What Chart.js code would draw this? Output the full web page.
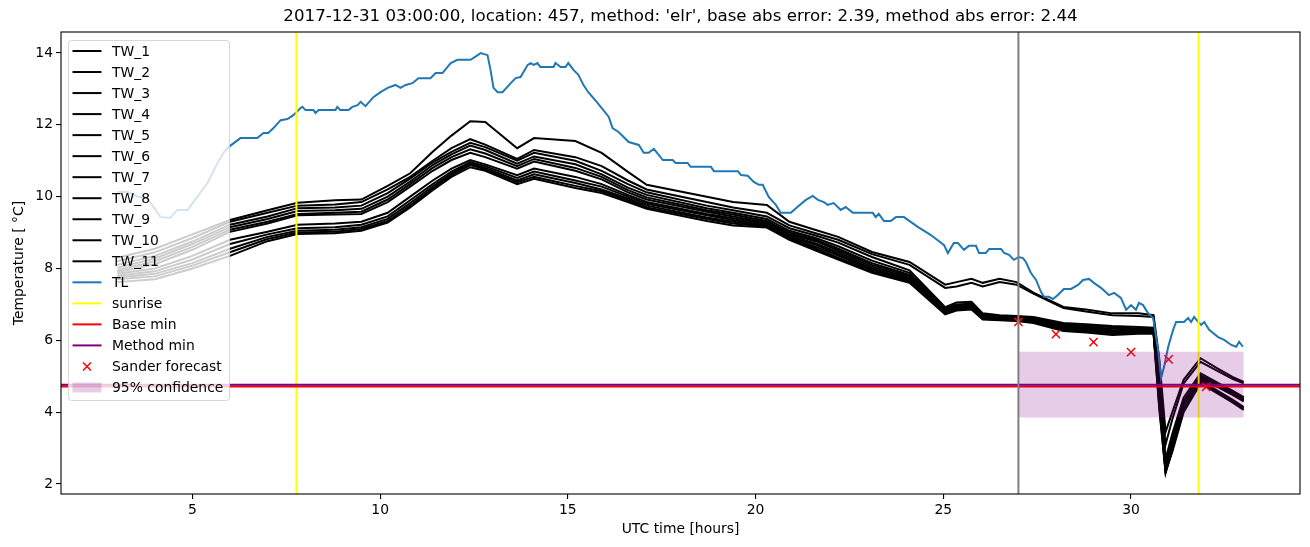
<!DOCTYPE html>
<html>
<head>
<meta charset="utf-8">
<script src="https://cdn.jsdelivr.net/npm/chart.js@4.4.0/dist/chart.umd.min.js"></script>
<style>
  html, body { margin: 0; padding: 0; background: #fff; }
  #wrap { width: 1310px; height: 547px; }
</style>
</head>
<body>
<div id="wrap"><canvas id="chart" width="1310" height="547"></canvas></div>
<script>
// --- data ---
const titleText = "2017-12-31 03:00:00, location: 457, method: 'elr', base abs error: 2.39, method abs error: 2.44";
const xTicks = [5, 10, 15, 20, 25, 30];
const yTicks = [2, 4, 6, 8, 10, 12, 14];
const X_MIN = 1.5, X_MAX = 34.5;
const Y_MIN = 1.72, Y_MAX = 14.585;

const twNames = ['TW_1', 'TW_2', 'TW_3', 'TW_4', 'TW_5', 'TW_6', 'TW_7', 'TW_8', 'TW_9', 'TW_10', 'TW_11'];
const twHours = [3, 4, 5, 6, 7, 7.8, 8.8, 9.5, 10.2, 10.8, 11.4, 11.9, 12.4, 12.8, 13.65, 14.1, 15.2, 15.9, 16.6, 17.1,
  18.7, 19.4, 20.3, 20.9, 21.6, 22.2, 23.1, 24.1, 25.05, 25.35, 25.75, 26.05, 26.5, 26.95, 27.4, 28.2, 28.8, 29.5, 30.2, 30.6,
  30.75, 30.92, 31.1, 31.4, 31.85, 32.3, 32.7, 33];
const tw1 = [8.30, 8.55, 8.95, 9.35, 9.62, 9.83, 9.90, 9.92, 10.30, 10.65, 11.25, 11.70, 12.10, 12.08, 11.35, 11.63, 11.55, 11.22, 10.69, 10.33,
  10.00, 9.85, 9.77, 9.30, 9.07, 8.88, 8.46, 8.18, 7.55, 7.62, 7.71, 7.60, 7.71, 7.62, 7.33, 6.93, 6.86, 6.75, 6.75, 6.70,
  5.50, 3.45, 4.00, 4.90, 5.50, 5.22, 4.98, 4.84];
const tw2 = [8.20, 8.45, 8.85, 9.30, 9.55, 9.75, 9.78, 9.85, 10.20, 10.55, 11.00, 11.35, 11.60, 11.45, 11.05, 11.30, 11.10, 10.85, 10.45, 10.20,
  9.85, 9.70, 9.55, 9.20, 8.98, 8.80, 8.40, 8.10, 7.46, 7.50, 7.60, 7.50, 7.62, 7.55, 7.30, 6.90, 6.80, 6.70, 6.68, 6.65,
  5.00, 3.10, 3.80, 4.80, 5.40, 5.15, 4.93, 4.80];
const tw3 = [8.10, 8.35, 8.75, 9.22, 9.45, 9.68, 9.70, 9.75, 10.10, 10.50, 10.95, 11.25, 11.50, 11.38, 11.00, 11.22, 11.00, 10.72, 10.35, 10.12,
  9.75, 9.62, 9.45, 9.12, 8.92, 8.72, 8.32, 7.95, 6.92, 7.05, 7.07, 6.75, 6.70, 6.68, 6.65, 6.48, 6.45, 6.40, 6.37, 6.35,
  4.80, 2.70, 3.40, 4.40, 5.08, 4.82, 4.60, 4.42];
const tw4 = [8.02, 8.28, 8.68, 9.15, 9.38, 9.60, 9.62, 9.66, 10.00, 10.42, 10.88, 11.18, 11.42, 11.30, 10.92, 11.12, 10.90, 10.62, 10.25, 10.05,
  9.68, 9.55, 9.38, 9.05, 8.85, 8.62, 8.22, 7.88, 6.88, 7.00, 7.02, 6.72, 6.68, 6.66, 6.62, 6.45, 6.42, 6.36, 6.33, 6.32,
  4.60, 2.50, 3.20, 4.30, 5.02, 4.78, 4.55, 4.38];
const tw5 = [7.95, 8.20, 8.60, 9.08, 9.30, 9.52, 9.55, 9.58, 9.92, 10.35, 10.80, 11.10, 11.32, 11.20, 10.85, 11.05, 10.80, 10.55, 10.18, 9.98,
  9.62, 9.50, 9.32, 9.00, 8.80, 8.55, 8.15, 7.82, 6.85, 6.98, 7.00, 6.70, 6.66, 6.64, 6.60, 6.42, 6.38, 6.32, 6.30, 6.30,
  4.50, 2.40, 3.10, 4.25, 5.00, 4.76, 4.53, 4.36];
const tw6 = [7.90, 8.12, 8.52, 9.02, 9.25, 9.48, 9.50, 9.52, 9.85, 10.28, 10.72, 11.02, 11.22, 11.10, 10.78, 10.98, 10.72, 10.48, 10.12, 9.92,
  9.58, 9.45, 9.28, 8.96, 8.76, 8.50, 8.10, 7.78, 6.82, 6.95, 6.98, 6.68, 6.64, 6.62, 6.58, 6.38, 6.35, 6.28, 6.27, 6.27,
  4.60, 2.55, 3.30, 4.30, 4.98, 4.74, 4.50, 4.34];
const tw7 = [7.85, 8.00, 8.35, 8.80, 9.02, 9.22, 9.25, 9.30, 9.55, 10.00, 10.45, 10.78, 11.02, 10.90, 10.60, 10.78, 10.55, 10.35, 10.05, 9.85,
  9.52, 9.40, 9.24, 8.92, 8.70, 8.45, 8.05, 7.74, 6.80, 6.92, 6.95, 6.66, 6.62, 6.60, 6.56, 6.35, 6.32, 6.25, 6.25, 6.25,
  4.50, 2.45, 3.20, 4.25, 4.95, 4.72, 4.50, 4.32];
const tw8 = [7.80, 7.92, 8.25, 8.68, 8.95, 9.12, 9.15, 9.22, 9.45, 9.90, 10.35, 10.70, 10.96, 10.85, 10.52, 10.70, 10.45, 10.28, 10.00, 9.80,
  9.48, 9.35, 9.20, 8.88, 8.66, 8.40, 8.00, 7.70, 6.78, 6.90, 6.92, 6.64, 6.60, 6.58, 6.55, 6.33, 6.30, 6.22, 6.23, 6.23,
  4.40, 2.35, 3.10, 4.20, 4.92, 4.70, 4.48, 4.30];
const tw9 = [7.75, 7.85, 8.15, 8.55, 8.88, 9.05, 9.08, 9.15, 9.38, 9.82, 10.28, 10.65, 10.92, 10.80, 10.45, 10.62, 10.38, 10.20, 9.95, 9.75,
  9.42, 9.30, 9.18, 8.85, 8.60, 8.36, 7.96, 7.66, 6.76, 6.88, 6.90, 6.62, 6.58, 6.56, 6.52, 6.30, 6.27, 6.20, 6.21, 6.21,
  4.30, 2.40, 3.00, 4.10, 4.88, 4.60, 4.35, 4.14];
const tw10 = [7.70, 7.78, 8.08, 8.45, 8.82, 9.00, 9.02, 9.10, 9.32, 9.75, 10.22, 10.60, 10.88, 10.76, 10.40, 10.55, 10.30, 10.15, 9.90, 9.70,
  9.38, 9.25, 9.16, 8.82, 8.55, 8.30, 7.92, 7.62, 6.74, 6.85, 6.88, 6.60, 6.57, 6.55, 6.50, 6.28, 6.25, 6.17, 6.20, 6.20,
  4.20, 2.30, 2.95, 4.05, 4.85, 4.55, 4.30, 4.10];
const tw11 = [7.62, 7.70, 8.00, 8.35, 8.76, 8.96, 8.98, 9.05, 9.28, 9.70, 10.18, 10.55, 10.82, 10.72, 10.35, 10.50, 10.24, 10.10, 9.85, 9.66,
  9.32, 9.20, 9.14, 8.80, 8.50, 8.25, 7.88, 7.60, 6.72, 6.83, 6.86, 6.58, 6.56, 6.54, 6.48, 6.26, 6.22, 6.15, 6.18, 6.18,
  4.10, 2.33, 2.90, 4.00, 4.80, 4.52, 4.27, 4.06];
const twSeries = [tw1, tw2, tw3, tw4, tw5, tw6, tw7, tw8, tw9, tw10, tw11];

const tlHours = [3.00, 3.27, 3.56, 3.80, 4.15, 4.41, 4.60, 4.87, 5.40, 5.67, 5.83, 5.96, 6.28, 6.73, 6.89, 7.02, 7.16, 7.35, 7.53, 7.69,
  7.88, 7.93, 8.01, 8.22, 8.28, 8.36, 8.81, 8.86, 8.94, 9.16, 9.26, 9.40, 9.48, 9.61, 9.82, 10.01, 10.20, 10.41, 10.54, 10.68,
  10.86, 11.02, 11.34, 11.48, 11.66, 11.88, 12.06, 12.41, 12.60, 12.68, 12.86, 12.94, 13.02, 13.13, 13.26, 13.48, 13.61, 13.74, 13.93, 14.01,
  14.09, 14.19, 14.27, 14.62, 14.67, 14.81, 14.94, 15.01, 15.15, 15.28, 15.42, 15.55, 15.79, 16.09, 16.19, 16.35, 16.62, 16.89, 17.02, 17.15,
  17.29, 17.53, 17.79, 17.87, 18.19, 18.27, 18.81, 18.89, 19.53, 19.61, 19.79, 19.95, 20.09, 20.19, 20.35, 20.54, 20.67, 20.94, 21.12, 21.34,
  21.52, 21.66, 21.82, 21.92, 22.08, 22.27, 22.40, 22.59, 23.12, 23.20, 23.28, 23.42, 23.60, 23.74, 23.95, 24.32, 24.67, 25.02, 25.12, 25.28,
  25.39, 25.55, 25.68, 25.87, 25.95, 26.13, 26.22, 26.54, 26.62, 26.75, 26.88, 27.01, 27.12, 27.20, 27.33, 27.47, 27.60, 27.68, 27.81, 27.92,
  28.05, 28.21, 28.40, 28.59, 28.72, 28.88, 29.01, 29.20, 29.41, 29.55, 29.73, 29.87, 30.00, 30.13, 30.21, 30.32, 30.45, 30.59, 30.72, 30.80,
  30.88, 30.99, 31.12, 31.20, 31.41, 31.52, 31.60, 31.68, 31.79, 31.87, 31.95, 32.08, 32.32, 32.48, 32.67, 32.80, 32.88, 32.98];
const tlTemp = [10.13, 10.13, 9.99, 9.96, 9.43, 9.41, 9.63, 9.63, 10.38, 10.94, 11.22, 11.38, 11.63, 11.63, 11.77, 11.77, 11.91, 12.13, 12.16, 12.27,
  12.47, 12.50, 12.41, 12.41, 12.33, 12.41, 12.41, 12.50, 12.41, 12.41, 12.50, 12.55, 12.64, 12.52, 12.77, 12.91, 13.03, 13.11, 13.03, 13.11,
  13.16, 13.30, 13.30, 13.44, 13.44, 13.72, 13.81, 13.81, 13.94, 14.00, 13.94, 13.53, 13.03, 12.91, 12.91, 13.16, 13.30, 13.33, 13.67, 13.72,
  13.67, 13.72, 13.61, 13.61, 13.72, 13.61, 13.61, 13.72, 13.53, 13.39, 13.10, 12.90, 12.61, 12.22, 11.91, 11.80, 11.52, 11.44, 11.22, 11.22,
  11.33, 11.02, 11.02, 10.94, 10.94, 10.83, 10.83, 10.71, 10.71, 10.60, 10.58, 10.41, 10.33, 10.33, 9.99, 9.77, 9.55, 9.55, 9.72, 9.91,
  10.02, 9.91, 9.85, 9.77, 9.82, 9.63, 9.71, 9.55, 9.55, 9.43, 9.52, 9.32, 9.32, 9.43, 9.43, 9.16, 8.93, 8.65, 8.43, 8.71,
  8.71, 8.52, 8.63, 8.63, 8.43, 8.43, 8.54, 8.54, 8.43, 8.38, 8.24, 8.32, 8.29, 8.18, 7.88, 7.68, 7.35, 7.21, 7.21, 7.15,
  7.26, 7.43, 7.43, 7.54, 7.68, 7.71, 7.60, 7.46, 7.26, 7.32, 7.18, 6.85, 6.98, 6.85, 7.04, 6.98, 6.76, 6.62, 5.73, 4.95,
  5.26, 5.82, 6.29, 6.51, 6.51, 6.62, 6.51, 6.65, 6.51, 6.43, 6.51, 6.29, 6.09, 6.01, 5.87, 5.82, 5.96, 5.82];

const sunriseHours = [7.77, 31.8];
const forecastHour = 27;
const baseMin = 4.71;
const methodMin = 4.76;
const sanderHours = [27, 28, 29, 30, 31, 32];
const sanderTemp = [6.51, 6.17, 5.95, 5.67, 5.47, 4.70];
const confHours = [27, 33];
const confLow = 3.85, confHigh = 5.68;

const FONT = 'DejaVu Sans';
const BLUE = '#1f77b4';
const PURPLE_FILL = 'rgba(128,0,128,0.2)';

const pts = (xs, ys) => xs.map((x, i) => ({ x: x, y: ys[i] }));

function lineSet(data, color, width) {
    return { data: data, borderColor: color, backgroundColor: color, borderWidth: width,
        showLine: true, pointRadius: 0, fill: false, tension: 0 };
}

const datasets = [];
twSeries.forEach(vals => datasets.push(lineSet(pts(twHours, vals), '#000', 2)));
datasets.push(lineSet(pts(tlHours, tlTemp), BLUE, 2));
sunriseHours.forEach(h => datasets.push(lineSet([{ x: h, y: Y_MIN }, { x: h, y: Y_MAX }], 'yellow', 2)));
datasets.push(lineSet([{ x: X_MIN, y: baseMin }, { x: X_MAX, y: baseMin }], 'red', 2));
datasets.push(lineSet([{ x: X_MIN, y: methodMin }, { x: X_MAX, y: methodMin }], 'purple', 2));
datasets.push({ data: pts(sanderHours, sanderTemp), showLine: false, pointStyle: 'crossRot',
    pointRadius: 5.8, borderColor: 'red', backgroundColor: 'red', pointBorderWidth: 1.5 });
datasets.push({ data: confHours.map(h => ({ x: h, y: confHigh })), showLine: true, borderWidth: 0,
    borderColor: 'rgba(0,0,0,0)', pointRadius: 0, backgroundColor: PURPLE_FILL, fill: { value: confLow } });
datasets.push(lineSet([{ x: forecastHour, y: Y_MIN }, { x: forecastHour, y: Y_MAX }], 'grey', 2));
// later datasets on top, like matplotlib
datasets.forEach((d, i) => { d.order = -i; });

const legendItems = twNames.map(n => ({ text: n, kind: 'line', color: '#000' })).concat([
    { text: 'TL', kind: 'line', color: BLUE },
    { text: 'sunrise', kind: 'line', color: 'yellow' },
    { text: 'Base min', kind: 'line', color: 'red' },
    { text: 'Method min', kind: 'line', color: 'purple' },
    { text: 'Sander forecast', kind: 'cross', color: 'red' },
    { text: '95% confidence', kind: 'patch', color: PURPLE_FILL }
]);

const framePlugin = {
    id: 'frameAndLegend',
    afterDraw(chart) {
        const ctx = chart.ctx;
        const a = chart.chartArea;
        ctx.save();
        // axes frame
        ctx.strokeStyle = '#000';
        ctx.lineWidth = 1.1;
        ctx.strokeRect(a.left, a.top, a.right - a.left, a.bottom - a.top);
        // title
        ctx.fillStyle = '#000';
        ctx.font = '16.67px "' + FONT + '"';
        ctx.textAlign = 'center';
        ctx.textBaseline = 'middle';
        ctx.fillText(titleText, (a.left + a.right) / 2, 17);

        // legend box, upper left inside the axes
        const bx = a.left + 7, by = a.top + 8, bw = 161, bh = 360;
        ctx.beginPath();
        ctx.roundRect(bx + 0.5, by + 0.5, bw, bh, 3);
        ctx.fillStyle = 'rgba(255,255,255,0.8)';
        ctx.fill();
        ctx.strokeStyle = 'rgba(204,204,204,0.8)';
        ctx.lineWidth = 1;
        ctx.stroke();

        ctx.font = '13.9px "' + FONT + '"';
        ctx.textAlign = 'left';
        legendItems.forEach((it, i) => {
            const cy = by + 11 + i * 21.03;
            const hx0 = bx + 4.5, hx1 = bx + 33.5;
            if (it.kind === 'line') {
                ctx.strokeStyle = it.color;
                ctx.lineWidth = 2;
                ctx.beginPath();
                ctx.moveTo(hx0, cy);
                ctx.lineTo(hx1, cy);
                ctx.stroke();
            } else if (it.kind === 'cross') {
                const cx = (hx0 + hx1) / 2, r = 4;
                ctx.strokeStyle = it.color;
                ctx.lineWidth = 1.5;
                ctx.beginPath();
                ctx.moveTo(cx - r, cy - r); ctx.lineTo(cx + r, cy + r);
                ctx.moveTo(cx - r, cy + r); ctx.lineTo(cx + r, cy - r);
                ctx.stroke();
            } else {
                ctx.fillStyle = it.color;
                ctx.fillRect(hx0, cy - 5, hx1 - hx0, 10);
            }
            ctx.fillStyle = '#000';
            ctx.fillText(it.text, bx + 44, cy + 1);
        });
        ctx.restore();
    }
};

const tickFont = { family: FONT, size: 13.9 };

new Chart(document.getElementById('chart'), {
    type: 'scatter',
    data: { datasets: datasets },
    options: {
        responsive: false,
        animation: false,
        events: [],
        devicePixelRatio: 1,
        layout: { padding: { top: 32, right: 10, left: 0, bottom: 0 } },
        plugins: { legend: { display: false }, tooltip: { enabled: false }, title: { display: false } },
        scales: {
            x: {
                type: 'linear', min: X_MIN, max: X_MAX,
                afterFit: s => { s.height = 53; },
                afterBuildTicks: s => { s.ticks = xTicks.map(v => ({ value: v })); },
                grid: { drawOnChartArea: false, drawTicks: true, tickLength: 5, color: '#000', lineWidth: 1.1 },
                border: { display: false },
                ticks: { color: '#000', font: tickFont, padding: 3, maxRotation: 0, autoSkip: false, callback: v => String(v) },
                title: { display: true, text: 'UTC time [hours]', color: '#000', font: tickFont, padding: { top: 0, bottom: 9 } }
            },
            y: {
                type: 'linear', min: Y_MIN, max: Y_MAX,
                afterFit: s => { s.width = 61; },
                afterBuildTicks: s => { s.ticks = yTicks.map(v => ({ value: v })); },
                grid: { drawOnChartArea: false, drawTicks: true, tickLength: 5, color: '#000', lineWidth: 1.1 },
                border: { display: false },
                ticks: { color: '#000', font: tickFont, padding: 3, autoSkip: false, callback: v => String(v) },
                title: { display: true, text: 'Temperature [ °C]', color: '#000', font: tickFont, padding: { top: 11, bottom: 0 } }
            }
        }
    },
    plugins: [framePlugin]
});
</script>
</body>
</html>
